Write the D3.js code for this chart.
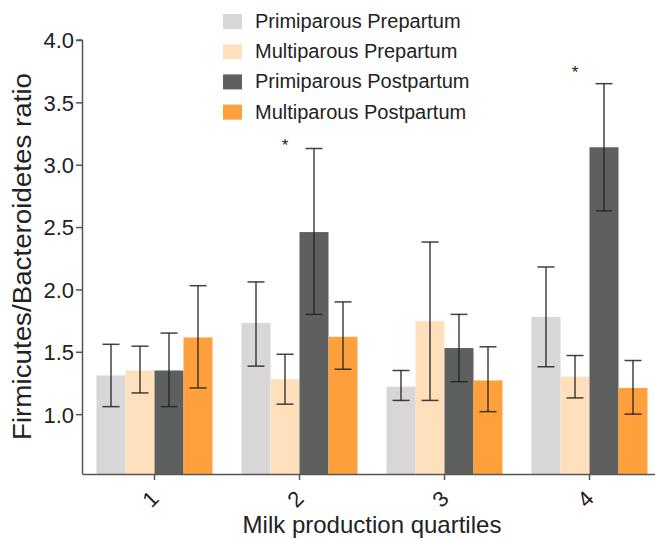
<!DOCTYPE html>
<html>
<head>
<meta charset="utf-8">
<script src="https://cdn.jsdelivr.net/npm/d3@7"></script>
<style>
  body { margin: 0; background: #fff; }
  svg { display: block; font-family: "Liberation Sans", Arial, sans-serif; }
</style>
</head>
<body>
<div id="chart"></div>
<script>
// data
const quartiles = ["1", "2", "3", "4"];
const seriesNames = ["Primiparous Prepartum", "Multiparous Prepartum", "Primiparous Postpartum", "Multiparous Postpartum"];
const seriesColors = ["#d8d6d7", "#ffe0bd", "#5e605f", "#ffa03c"];

const primiPre = [1.31, 1.73, 1.22, 1.78];
const primiPreHi = [1.56, 2.06, 1.35, 2.18];
const primiPreLo = [1.06, 1.385, 1.11, 1.38];

const multiPre = [1.35, 1.28, 1.745, 1.30];
const multiPreHi = [1.545, 1.48, 2.38, 1.47];
const multiPreLo = [1.17, 1.08, 1.11, 1.13];

const primiPost = [1.35, 2.46, 1.53, 3.14];
const primiPostHi = [1.65, 3.13, 1.80, 3.65];
const primiPostLo = [1.06, 1.80, 1.26, 2.63];

const multiPost = [1.615, 1.62, 1.27, 1.21];
const multiPostHi = [2.03, 1.90, 1.54, 1.43];
const multiPostLo = [1.21, 1.36, 1.02, 1.00];

const yTicks = [1.0, 1.5, 2.0, 2.5, 3.0, 3.5, 4.0];
// significance marks: quartile and height of the star
const starQuartiles = ["2", "4"];
const starValues = [3.19, 3.77];

const means = [primiPre, multiPre, primiPost, multiPost];
const highs = [primiPreHi, multiPreHi, primiPostHi, multiPostHi];
const lows = [primiPreLo, multiPreLo, primiPostLo, multiPostLo];

const rows = [];
quartiles.forEach((q, i) => {
    seriesNames.forEach((s, j) => {
        rows.push({ q: q, s: s, v: means[j][i], hi: highs[j][i], lo: lows[j][i], c: seriesColors[j] });
    });
});

const width = 655;
const height = 540;

const svg = d3.select("#chart").append("svg")
    .attr("width", width)
    .attr("height", height)
    .attr("viewBox", `0 0 ${width} ${height}`);

const xScale = d3.scaleBand()
    .domain(quartiles)
    .range([82, 662])
    .paddingInner(0.2)
    .paddingOuter(0.1);

const subScale = d3.scaleBand()
    .domain(seriesNames)
    .range([0, xScale.bandwidth()]);

const yScale = d3.scaleLinear()
    .domain([0.52, 4.0])
    .range([474, 40]);

// bars
svg.append("g").selectAll("rect").data(rows).join("rect")
    .attr("x", d => xScale(d.q) + subScale(d.s))
    .attr("y", d => yScale(d.v))
    .attr("width", subScale.bandwidth())
    .attr("height", d => yScale(0.52) - yScale(d.v))
    .attr("fill", d => d.c);

// error bars
const err = svg.append("g")
    .attr("stroke", "#222")
    .attr("stroke-opacity", 0.85)
    .attr("stroke-width", 1.5);
const cx = d => xScale(d.q) + subScale(d.s) + subScale.bandwidth() / 2;
const capW = 8.5;
err.selectAll("line.v").data(rows).join("line")
    .attr("class", "v")
    .attr("x1", cx).attr("x2", cx)
    .attr("y1", d => yScale(d.hi)).attr("y2", d => yScale(d.lo));
err.selectAll("line.top").data(rows).join("line")
    .attr("class", "top")
    .attr("x1", d => cx(d) - capW).attr("x2", d => cx(d) + capW)
    .attr("y1", d => yScale(d.hi)).attr("y2", d => yScale(d.hi));
err.selectAll("line.bot").data(rows).join("line")
    .attr("class", "bot")
    .attr("x1", d => cx(d) - capW).attr("x2", d => cx(d) + capW)
    .attr("y1", d => yScale(d.lo)).attr("y2", d => yScale(d.lo));

// axes
const yAxis = svg.append("g")
    .attr("transform", "translate(82,0)")
    .call(d3.axisLeft(yScale).tickValues(yTicks).tickFormat(d3.format(".1f")).tickSize(6).tickSizeOuter(0));
yAxis.select(".domain").attr("stroke", "#555").attr("stroke-width", 1.5)
    .attr("d", `M0.5,${yScale(4.0)}H-5.5M0.5,${yScale(4.0)}V${yScale(0.52)}`);
yAxis.selectAll(".tick line").attr("stroke", "#555").attr("stroke-width", 1.5);
yAxis.selectAll(".tick text")
    .attr("x", -8)
    .attr("dy", "0.36em")
    .style("font-size", "22px")
    .attr("fill", "#222");

const xAxis = svg.append("g")
    .attr("transform", "translate(0,474)")
    .call(d3.axisBottom(xScale).tickSize(6).tickSizeOuter(0));
xAxis.select(".domain").attr("stroke", "#555").attr("stroke-width", 1.5);
xAxis.selectAll(".tick line").attr("stroke", "#555").attr("stroke-width", 1.5);
xAxis.selectAll(".tick text")
    .attr("y", 0)
    .attr("dy", 0)
    .attr("text-anchor", "middle")
    .attr("transform", "translate(-4,25) rotate(-45)")
    .attr("dominant-baseline", "central")
    .style("font-size", "22px")
    .attr("fill", "#222");

// axis titles
svg.append("text")
    .text("Milk production quartiles")
    .attr("x", (82 + 662) / 2)
    .attr("y", 533)
    .attr("text-anchor", "middle")
    .style("font-size", "24px")
    .attr("fill", "#222");

svg.append("text")
    .text("Firmicutes/Bacteroidetes ratio")
    .attr("transform", `translate(31, ${(73 + 440) / 2}) rotate(-90)`)
    .attr("text-anchor", "middle")
    .attr("textLength", 367)
    .attr("lengthAdjust", "spacingAndGlyphs")
    .style("font-size", "26px")
    .attr("fill", "#222");

// stars
svg.selectAll("text.star").data(starQuartiles).join("text")
    .attr("class", "star")
    .text("*")
    .attr("x", (d, i) => xScale(d) + subScale(seriesNames[1]) + subScale.bandwidth() / 2)
    .attr("y", (d, i) => yScale(starValues[i]) + 9.5)
    .attr("text-anchor", "middle")
    .style("font-size", "17px")
    .attr("fill", "#222");

// legend
const legend = svg.append("g").attr("transform", "translate(223,14)");
const legendItem = legend.selectAll("g").data(seriesNames).join("g")
    .attr("transform", (d, i) => `translate(0, ${i * 30.2})`);
legendItem.append("rect")
    .attr("width", 19)
    .attr("height", 15)
    .attr("fill", (d, i) => seriesColors[i]);
legendItem.append("text")
    .text(d => d)
    .attr("x", 32)
    .attr("y", 14)
    .style("font-size", "20px")
    .attr("fill", "#222");
</script>
</body>
</html>
